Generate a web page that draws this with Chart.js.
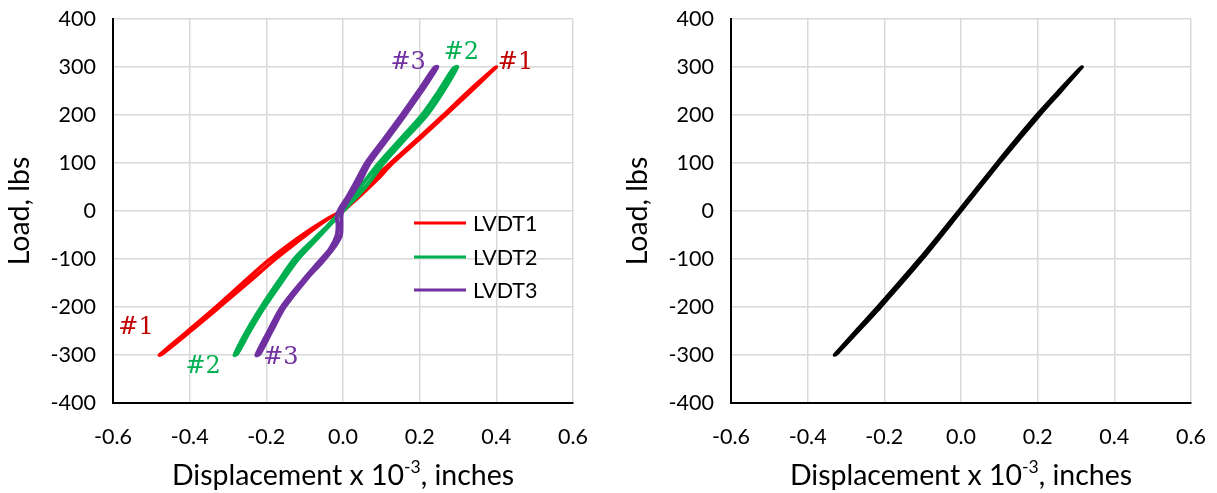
<!DOCTYPE html>
<html><head><meta charset="utf-8">
<script src="https://cdn.jsdelivr.net/npm/chart.js@4"></script>
<style>
html,body{margin:0;padding:0;background:#fff;width:1217px;height:493px;overflow:hidden}
.box{position:absolute;top:0;height:493px}
canvas{display:block}
</style></head><body>
<div class="box" style="left:0;width:600px"><canvas id="c1" width="600" height="493"></canvas></div>
<div class="box" style="left:618px;width:599px"><canvas id="c2" width="599" height="493"></canvas></div>
<script>
const FONT = 'Lato';
const xTickValues = [-0.6, -0.4, -0.2, 0, 0.2, 0.4, 0.6];
const yTickValues = [-400, -300, -200, -100, 0, 100, 200, 300, 400];
const yTitle = 'Load, lbs';
const xTitleParts = ['Displacement x 10', '-3', ', inches'];

const seriesNames = ['LVDT1', 'LVDT2', 'LVDT3'];
const seriesColors = ['#FF0000', '#00B050', '#7030A0'];

const lvdt1X = [0, 0.04, 0.09, 0.13, 0.2, 0.268, 0.335, 0.40, 0.393, 0.328, 0.262, 0.194, 0.124, 0.083, 0.035, -0.005, -0.045, -0.092, -0.145, -0.195, -0.262, -0.332, -0.405, -0.479, -0.47, -0.397, -0.322, -0.248, -0.176, -0.125, -0.075, -0.03, 0];
const lvdt1Y = [0, 28, 66, 100, 150, 200, 250, 300, 296, 250, 200, 150, 100, 70, 30, 0, -18, -42, -72, -103, -150, -200, -250, -300, -297, -250, -200, -150, -100, -68, -37, -12, 0];

const lvdt2X = [0, 0.03, 0.061, 0.106, 0.162, 0.219, 0.262, 0.298, 0.288, 0.25, 0.206, 0.15, 0.094, 0.045, 0.002, -0.04, -0.076, -0.127, -0.171, -0.213, -0.251, -0.283, -0.276, -0.243, -0.205, -0.162, -0.117, -0.067, -0.033, 0];
const lvdt2Y = [0, 25, 52, 100, 150, 200, 250, 300, 297, 250, 200, 150, 100, 50, 6, -31, -59, -100, -150, -200, -250, -300, -297, -250, -200, -150, -100, -57, -28, 0];

const lvdt3X = [0, 0.02, 0.045, 0.07, 0.116, 0.162, 0.206, 0.246, 0.238, 0.197, 0.153, 0.107, 0.06, 0.035, 0.012, -0.006, -0.016, -0.014, -0.017, -0.034, -0.064, -0.102, -0.16, -0.194, -0.226, -0.218, -0.186, -0.152, -0.093, -0.055, -0.026, -0.006, -0.004, -0.004, 0];
const lvdt3Y = [5, 30, 62, 100, 150, 200, 250, 300, 298, 250, 200, 150, 100, 63, 30, 8, -10, -30, -52, -79, -107, -142, -200, -250, -300, -298, -250, -200, -140, -107, -79, -52, -30, -10, 5];

const avgX = [0, 0.1, 0.205, 0.261, 0.316, 0.309, 0.255, 0.198, 0.094, -0.006, -0.108, -0.217, -0.274, -0.33, -0.323, -0.268, -0.21, -0.101, 0];
const avgY = [0, 100, 200, 250, 300, 296, 250, 200, 100, 0, -100, -200, -250, -300, -297, -250, -200, -100, 0];

const annotLabels = ['#1', '#2', '#3', '#1', '#2', '#3'];
const annotX = [0.45, 0.309, 0.170, -0.54, -0.365, -0.162];
const annotY = [309, 329, 309, -243, -325, -305];
const annotColors = ['#C00000', '#00B050', '#7030A0', '#C00000', '#00B050', '#7030A0'];

function pts(xs, ys) { return xs.map((x, i) => ({ x: x, y: ys[i] })); }

const xTitlePlugin = {
  id: 'xTitle',
  afterDraw(chart) {
    const ctx = chart.ctx, a = chart.chartArea;
    const mainFont = '28.5px ' + FONT, supFont = '17.5px ' + FONT;
    ctx.save();
    ctx.fillStyle = '#000';
    ctx.textBaseline = 'alphabetic';
    ctx.textAlign = 'left';
    ctx.font = mainFont; const w0 = ctx.measureText(xTitleParts[0]).width;
    ctx.font = supFont; const w1 = ctx.measureText(xTitleParts[1]).width;
    ctx.font = mainFont; const w2 = ctx.measureText(xTitleParts[2]).width;
    const total = w0 + w1 + w2;
    let x = (a.left + a.right) / 2 - total / 2;
    const base = 485;
    ctx.font = mainFont; ctx.fillText(xTitleParts[0], x, base); x += w0;
    ctx.font = supFont; ctx.fillText(xTitleParts[1], x, base - 12); x += w1;
    ctx.font = mainFont; ctx.fillText(xTitleParts[2], x, base);
    ctx.restore();
  }
};

const legendPlugin = {
  id: 'insideLegend',
  afterDraw(chart) {
    if (!chart.options.plugins.insideLegend || !chart.options.plugins.insideLegend.show) return;
    const ctx = chart.ctx, a = chart.chartArea;
    const rows = [a.top + 204, a.top + 238, a.top + 271];
    ctx.save();
    seriesNames.forEach((n, i) => {
      ctx.strokeStyle = seriesColors[i];
      ctx.lineWidth = 3;
      ctx.beginPath();
      ctx.moveTo(a.left + 301, rows[i]);
      ctx.lineTo(a.left + 353, rows[i]);
      ctx.stroke();
      ctx.fillStyle = '#000';
      ctx.font = '21.5px ' + FONT;
      ctx.textBaseline = 'middle';
      ctx.textAlign = 'left';
      ctx.fillText(n, a.left + 360, rows[i] + 1);
    });
    ctx.restore();
  }
};

const annotPlugin = {
  id: 'annots',
  afterDatasetsDraw(chart) {
    if (!chart.options.plugins.annots || !chart.options.plugins.annots.show) return;
    const ctx = chart.ctx, xs = chart.scales.x, ys = chart.scales.y;
    ctx.save();
    ctx.font = '24px "DejaVu Serif"';
    ctx.textAlign = 'center';
    ctx.textBaseline = 'middle';
    annotLabels.forEach((t, i) => {
      ctx.fillStyle = annotColors[i];
      ctx.fillText(t, xs.getPixelForValue(annotX[i]), ys.getPixelForValue(annotY[i]));
    });
    ctx.restore();
  }
};

function makeOptions(width, showLegend, showAnnots) {
  return {
    responsive: false,
    animation: false,
    layout: { padding: { top: 19, right: width - 573, bottom: 0, left: 0 } },
    plugins: {
      legend: { display: false },
      tooltip: { enabled: false },
      insideLegend: { show: showLegend },
      annots: { show: showAnnots }
    },
    elements: { point: { radius: 0 } },
    scales: {
      x: {
        type: 'linear', min: -0.6, max: 0.6,
        afterBuildTicks: s => { s.ticks = xTickValues.map(v => ({ value: v })); },
        afterFit: s => { s.height = 90; s.paddingLeft = 0; s.paddingRight = 0; },
        grid: { color: '#D9D9D9', lineWidth: 1.5, drawTicks: false },
        border: { color: '#000', width: 2 },
        ticks: { color: '#000', font: { family: FONT, size: 21.5 }, padding: 21, maxRotation: 0, autoSkip: false,
                 callback: v => Number(v).toFixed(1) }
      },
      y: {
        type: 'linear', min: -400, max: 400,
        afterBuildTicks: s => { s.ticks = yTickValues.map(v => ({ value: v })); },
        afterFit: s => { s.width = 113; s.paddingTop = 0; s.paddingBottom = 0; },
        grid: { color: '#D9D9D9', lineWidth: 1.5, drawTicks: false },
        border: { color: '#000', width: 2 },
        ticks: { color: '#000', font: { family: FONT, size: 21.5 }, padding: 17, autoSkip: false,
                 callback: v => String(v) },
        title: { display: true, text: yTitle, color: '#000', font: { family: FONT, size: 28.5 }, padding: { top: 3, bottom: 0 } }
      }
    }
  };
}

new Chart(document.getElementById('c1'), {
  type: 'scatter',
  data: {
    datasets: [
      { label: seriesNames[0], data: pts(lvdt1X, lvdt1Y), showLine: true, borderColor: seriesColors[0], backgroundColor: seriesColors[0], borderWidth: 3.5, tension: 0.3, order: 3 },
      { label: seriesNames[1], data: pts(lvdt2X, lvdt2Y), showLine: true, borderColor: seriesColors[1], backgroundColor: seriesColors[1], borderWidth: 4, tension: 0.3, order: 2 },
      { label: seriesNames[2], data: pts(lvdt3X, lvdt3Y), showLine: true, borderColor: seriesColors[2], backgroundColor: seriesColors[2], borderWidth: 4, tension: 0.3, order: 1 }
    ]
  },
  options: makeOptions(600, true, true),
  plugins: [xTitlePlugin, legendPlugin, annotPlugin]
});

new Chart(document.getElementById('c2'), {
  type: 'scatter',
  data: {
    datasets: [
      { label: 'Average', data: pts(avgX, avgY), showLine: true, borderColor: '#000', backgroundColor: '#000', borderWidth: 3.5, tension: 0.2 }
    ]
  },
  options: makeOptions(599, false, false),
  plugins: [xTitlePlugin]
});
</script>
</body></html>
